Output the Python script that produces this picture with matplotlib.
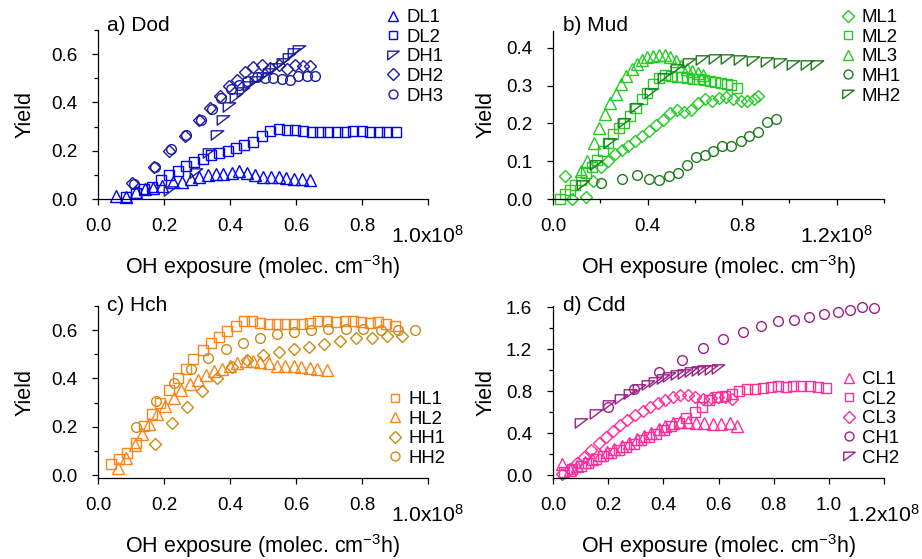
import matplotlib
matplotlib.use("Agg")
import matplotlib.pyplot as plt
from matplotlib.path import Path
from matplotlib.ticker import MultipleLocator
from matplotlib.transforms import ScaledTranslation

plt.rcParams['font.family'] = ['Liberation Sans', 'DejaVu Sans']
plt.rcParams['mathtext.fontset'] = 'custom'
plt.rcParams['mathtext.rm'] = 'Liberation Sans'
plt.rcParams['mathtext.it'] = 'Liberation Sans:italic'
plt.rcParams['mathtext.bf'] = 'Liberation Sans:bold'

# ---------------- data (x in units of 1e8 molec cm^-3 h) ----------------
# a) Dod
DL1_x = [0.056,0.084,0.114,0.142,0.167,0.195,0.226,0.256,0.283,0.307,0.332,0.357,0.380,0.405,0.428,0.450,0.476,0.499,0.524,0.547,0.570,0.595,0.618,0.641]
DL1_y = [0.012,0.010,0.030,0.040,0.045,0.055,0.069,0.072,0.083,0.092,0.100,0.102,0.104,0.107,0.114,0.109,0.100,0.093,0.093,0.090,0.086,0.083,0.083,0.080]
DL2_x = [0.084,0.114,0.140,0.165,0.190,0.216,0.243,0.268,0.290,0.319,0.342,0.367,0.393,0.418,0.443,0.469,0.496,0.521,0.547,0.572,0.597,0.622,0.648,0.673,0.698,0.724,0.749,0.774,0.800,0.825,0.850,0.875,0.904]
DL2_y = [0.010,0.023,0.040,0.050,0.080,0.100,0.118,0.137,0.152,0.165,0.183,0.192,0.200,0.210,0.224,0.238,0.259,0.280,0.289,0.286,0.286,0.282,0.279,0.279,0.279,0.279,0.279,0.283,0.283,0.279,0.279,0.279,0.277]
DH1_x = [0.218,0.297,0.337,0.362,0.380,0.398,0.418,0.438,0.458,0.479,0.499,0.519,0.539,0.560,0.580,0.595,0.610]
DH1_y = [0.035,0.106,0.190,0.266,0.328,0.383,0.418,0.445,0.466,0.487,0.505,0.521,0.542,0.563,0.584,0.604,0.618]
DH2_x = [0.102,0.170,0.216,0.263,0.307,0.339,0.369,0.396,0.420,0.445,0.471,0.496,0.521,0.547,0.572,0.597,0.622,0.643]
DH2_y = [0.065,0.134,0.200,0.259,0.328,0.376,0.425,0.466,0.494,0.524,0.545,0.556,0.542,0.556,0.538,0.553,0.549,0.549]
DH3_x = [0.109,0.173,0.221,0.266,0.312,0.345,0.372,0.403,0.428,0.453,0.481,0.506,0.531,0.557,0.582,0.607,0.633,0.658]
DH3_y = [0.061,0.134,0.206,0.266,0.328,0.372,0.420,0.455,0.473,0.487,0.505,0.500,0.503,0.497,0.494,0.510,0.508,0.508]

# b) Mud
ML1_x = [0.049,0.082,0.138,0.171,0.202,0.233,0.262,0.290,0.319,0.347,0.378,0.406,0.437,0.467,0.495,0.526,0.554,0.582,0.613,0.643,0.674,0.702,0.733,0.763,0.794,0.822,0.850,0.868]
ML1_y = [0.060,0.000,0.006,0.048,0.086,0.101,0.119,0.131,0.140,0.153,0.166,0.181,0.195,0.208,0.228,0.237,0.230,0.237,0.255,0.264,0.260,0.268,0.270,0.264,0.260,0.260,0.266,0.273]
ML2_x = [0.030,0.051,0.072,0.093,0.117,0.138,0.164,0.185,0.213,0.234,0.255,0.279,0.300,0.326,0.350,0.375,0.396,0.423,0.448,0.472,0.498,0.523,0.544,0.568,0.594,0.618,0.639,0.664,0.685,0.709,0.735,0.754,0.777]
ML2_y = [0.000,0.012,0.024,0.037,0.051,0.068,0.086,0.104,0.126,0.148,0.171,0.188,0.202,0.220,0.242,0.264,0.282,0.304,0.320,0.328,0.326,0.324,0.322,0.320,0.319,0.317,0.315,0.313,0.310,0.307,0.304,0.301,0.295]
ML3_x = [0.120,0.145,0.173,0.195,0.219,0.241,0.265,0.286,0.310,0.333,0.357,0.378,0.399,0.424,0.448,0.472,0.495,0.519,0.543,0.565,0.589,0.613,0.636]
ML3_y = [0.075,0.100,0.148,0.188,0.224,0.253,0.277,0.304,0.326,0.344,0.357,0.368,0.375,0.380,0.381,0.381,0.375,0.366,0.353,0.344,0.340,0.335,0.328]
MH1_x = [0.202,0.290,0.357,0.406,0.448,0.491,0.529,0.568,0.606,0.641,0.678,0.716,0.754,0.794,0.829,0.867,0.904,0.942]
MH1_y = [0.042,0.052,0.064,0.052,0.051,0.061,0.068,0.089,0.111,0.117,0.128,0.140,0.141,0.153,0.166,0.177,0.204,0.213]
MH2_x = [0.128,0.180,0.241,0.300,0.352,0.413,0.469,0.523,0.575,0.632,0.684,0.737,0.791,0.847,0.904,0.960,1.017,1.076,1.118]
MH2_y = [0.037,0.091,0.148,0.200,0.242,0.282,0.320,0.344,0.360,0.368,0.372,0.372,0.368,0.366,0.362,0.359,0.356,0.356,0.356]

# c) Hch
HL1_x = [0.040,0.065,0.088,0.114,0.139,0.163,0.189,0.216,0.241,0.266,0.289,0.317,0.342,0.367,0.392,0.417,0.442,0.467,0.492,0.518,0.543,0.568,0.593,0.618,0.643,0.668,0.693,0.722,0.747,0.773,0.798,0.823,0.848,0.874,0.899]
HL1_y = [0.048,0.066,0.090,0.131,0.203,0.255,0.299,0.354,0.403,0.441,0.480,0.517,0.545,0.572,0.595,0.619,0.637,0.636,0.630,0.626,0.626,0.626,0.626,0.626,0.631,0.636,0.636,0.634,0.636,0.639,0.632,0.628,0.632,0.625,0.618]
HL2_x = [0.060,0.085,0.111,0.134,0.156,0.179,0.204,0.229,0.253,0.278,0.302,0.327,0.350,0.375,0.400,0.422,0.447,0.470,0.492,0.518,0.543,0.568,0.593,0.616,0.641,0.665,0.693]
HL2_y = [0.028,0.069,0.124,0.170,0.211,0.252,0.286,0.320,0.352,0.377,0.393,0.414,0.430,0.441,0.452,0.462,0.472,0.472,0.469,0.462,0.452,0.452,0.452,0.448,0.444,0.441,0.437]
HH1_x = [0.174,0.223,0.271,0.315,0.362,0.407,0.452,0.500,0.548,0.593,0.638,0.685,0.734,0.783,0.831,0.876,0.922]
HH1_y = [0.128,0.214,0.283,0.348,0.400,0.448,0.476,0.497,0.510,0.524,0.531,0.541,0.556,0.566,0.566,0.574,0.574]
HH2_x = [0.116,0.176,0.229,0.281,0.334,0.387,0.439,0.490,0.541,0.593,0.645,0.698,0.753,0.803,0.859,0.909,0.960]
HH2_y = [0.200,0.306,0.382,0.441,0.485,0.520,0.546,0.567,0.583,0.592,0.599,0.606,0.604,0.604,0.601,0.601,0.600]

# d) Cdd
CL1_x = [0.034,0.061,0.088,0.116,0.143,0.170,0.195,0.222,0.250,0.276,0.303,0.331,0.355,0.383,0.407,0.434,0.462,0.488,0.519,0.549,0.579,0.610,0.640,0.667]
CL1_y = [0.104,0.047,0.085,0.120,0.149,0.190,0.222,0.247,0.279,0.307,0.342,0.370,0.402,0.434,0.465,0.497,0.503,0.510,0.500,0.494,0.487,0.487,0.500,0.468]
CL2_x = [0.040,0.070,0.100,0.128,0.155,0.183,0.210,0.238,0.264,0.292,0.319,0.347,0.373,0.401,0.428,0.456,0.482,0.513,0.541,0.567,0.595,0.622,0.650,0.676,0.703,0.731,0.761,0.789,0.816,0.844,0.870,0.900,0.930,0.960,0.990]
CL2_y = [0.032,0.054,0.089,0.117,0.149,0.180,0.206,0.237,0.269,0.300,0.332,0.364,0.395,0.427,0.465,0.500,0.547,0.601,0.649,0.712,0.744,0.750,0.775,0.797,0.816,0.823,0.832,0.839,0.845,0.839,0.845,0.848,0.845,0.842,0.830]
CL3_x = [0.034,0.061,0.088,0.113,0.137,0.165,0.192,0.218,0.244,0.270,0.298,0.325,0.353,0.379,0.407,0.434,0.462,0.488,0.516,0.543,0.571,0.598,0.625,0.650]
CL3_y = [0.009,0.054,0.111,0.174,0.237,0.301,0.364,0.421,0.475,0.522,0.570,0.608,0.649,0.687,0.718,0.744,0.766,0.766,0.744,0.728,0.737,0.744,0.744,0.728]
CH1_x = [0.201,0.295,0.385,0.468,0.545,0.618,0.688,0.755,0.816,0.874,0.928,0.981,1.032,1.078,1.122,1.165]
CH1_y = [0.649,0.823,0.978,1.095,1.206,1.294,1.358,1.421,1.471,1.481,1.506,1.538,1.554,1.576,1.601,1.592]
CH2_x = [0.101,0.155,0.204,0.246,0.280,0.313,0.343,0.371,0.398,0.422,0.450,0.476,0.501,0.525,0.549,0.573,0.598]
CH2_y = [0.497,0.585,0.665,0.720,0.775,0.823,0.854,0.886,0.911,0.934,0.949,0.965,0.981,0.991,0.997,1.003,1.006]

# ---------------- style ----------------
TRI_DL = Path([(-1, 0.75), (1, 0.75), (-1, -0.75), (-1, 0.75)],
              [Path.MOVETO, Path.LINETO, Path.LINETO, Path.CLOSEPOLY])

MS = {'^': 8.2, 's': 6.8, 'D': 6.5, 'o': 7.0, 'tri': 9.0}

def mk(m):
    return TRI_DL if m == 'tri' else m

W, H = 922, 559
fig = plt.figure(figsize=(W / 100, H / 100), dpi=100)
TICK_FS = 13.6

def axes_px(l, r, b, t):
    return fig.add_axes([l / W, 1 - b / H, (r - l) / W, (b - t) / H])

def style_axes(ax):
    for s in ['top', 'right']:
        ax.spines[s].set_visible(False)
    for s in ['left', 'bottom']:
        ax.spines[s].set_linewidth(0.9)
    ax.tick_params(which='major', direction='out', length=4.5, width=0.9, labelsize=TICK_FS)
    ax.tick_params(which='minor', direction='out', length=2.6, width=0.9)
    ax.tick_params(axis='x', which='major', pad=9.0)
    ax.tick_params(axis='y', which='major', pad=10.5)

def draw(ax, series):
    for x, y, m, c, lab in series:
        ax.plot(x, y, linestyle='none', marker=mk(m), markersize=MS[m],
                markerfacecolor='none', markeredgecolor=c, markeredgewidth=1.0,
                label=lab, clip_on=False)

def add_legend(ax, xpx, ypx):
    ax.legend(loc='upper left', bbox_to_anchor=(xpx / W, 1 - ypx / H),
              bbox_transform=fig.transFigure, frameon=False, fontsize=13.4,
              handlelength=0.75, handletextpad=0.35, labelspacing=0.14,
              borderpad=0, borderaxespad=0, markerscale=0.92)

def set_xticks_sci(ax, ticks, labels):
    ax.set_xticks(ticks, labels)
    lab = ax.get_xticklabels()[-1]
    lab.set_fontsize(15.2)
    lab.set_transform(lab.get_transform() +
                      ScaledTranslation(0, -5.0 / 72, fig.dpi_scale_trans))

XLAB = 'OH exposure (molec. cm$^{-3}$h)'

# ---- a) Dod ----
blue, navy = '#0000ff', '#1c1c9e'
axa = axes_px(98, 428, 199, 30)
style_axes(axa)
draw(axa, [(DL1_x, DL1_y, '^', blue, 'DL1'), (DL2_x, DL2_y, 's', blue, 'DL2'),
           (DH1_x, DH1_y, 'tri', navy, 'DH1'), (DH2_x, DH2_y, 'D', navy, 'DH2'),
           (DH3_x, DH3_y, 'o', navy, 'DH3')])
axa.set_xlim(0, 1.0)
axa.set_ylim(0, 0.70)
set_xticks_sci(axa, [0, 0.2, 0.4, 0.6, 0.8, 1.0], ['0.0', '0.2', '0.4', '0.6', '0.8', '1.0x10$^{8}$'])
axa.set_yticks([0, 0.2, 0.4, 0.6], ['0.0', '0.2', '0.4', '0.6'])
axa.yaxis.set_minor_locator(MultipleLocator(0.1))
axa.text(0.027, 1.025, 'a) Dod', transform=axa.transAxes, fontsize=15, va='center', ha='left')
add_legend(axa, 386, 9)

# ---- b) Mud ----
green, dgreen = '#22cc22', '#1f7a1f'
axb = axes_px(553, 884, 199, 31)
style_axes(axb)
draw(axb, [(ML1_x, ML1_y, 'D', green, 'ML1'), (ML2_x, ML2_y, 's', green, 'ML2'),
           (ML3_x, ML3_y, '^', green, 'ML3'), (MH1_x, MH1_y, 'o', dgreen, 'MH1'),
           (MH2_x, MH2_y, 'tri', dgreen, 'MH2')])
axb.set_xlim(0, 1.4)
axb.set_ylim(0, 0.445)
set_xticks_sci(axb, [0, 0.4, 0.8, 1.2], ['0.0', '0.4', '0.8', '1.2x10$^{8}$'])
axb.xaxis.set_minor_locator(MultipleLocator(0.2))
axb.set_yticks([0, 0.1, 0.2, 0.3, 0.4], ['0.0', '0.1', '0.2', '0.3', '0.4'])
axb.text(0.03, 1.03, 'b) Mud', transform=axb.transAxes, fontsize=15, va='center', ha='left')
add_legend(axb, 841, 9)

# ---- c) Hch ----
orange, gold = '#ff8418', '#cc8a10'
axc = axes_px(98, 428, 478, 306)
style_axes(axc)
draw(axc, [(HL1_x, HL1_y, 's', orange, 'HL1'), (HL2_x, HL2_y, '^', orange, 'HL2'),
           (HH1_x, HH1_y, 'D', gold, 'HH1'), (HH2_x, HH2_y, 'o', gold, 'HH2')])
axc.set_xlim(0, 1.0)
axc.set_ylim(-0.012, 0.70)
set_xticks_sci(axc, [0, 0.2, 0.4, 0.6, 0.8, 1.0], ['0.0', '0.2', '0.4', '0.6', '0.8', '1.0x10$^{8}$'])
axc.set_yticks([0, 0.2, 0.4, 0.6], ['0.0', '0.2', '0.4', '0.6'])
axc.yaxis.set_minor_locator(MultipleLocator(0.1))
axc.text(0.027, 1.005, 'c) Hch', transform=axc.transAxes, fontsize=15, va='center', ha='left')
add_legend(axc, 388, 391)

# ---- d) Cdd ----
pink, purple = '#ff2d9b', '#9c1f8a'
axd = axes_px(553, 884, 478, 306)
style_axes(axd)
draw(axd, [(CL1_x, CL1_y, '^', pink, 'CL1'), (CL2_x, CL2_y, 's', pink, 'CL2'),
           (CL3_x, CL3_y, 'D', pink, 'CL3'), (CH1_x, CH1_y, 'o', purple, 'CH1'),
           (CH2_x, CH2_y, 'tri', purple, 'CH2')])
axd.set_xlim(0, 1.2)
axd.set_ylim(-0.028, 1.61)
set_xticks_sci(axd, [0, 0.2, 0.4, 0.6, 0.8, 1.0, 1.2], ['0.0', '0.2', '0.4', '0.6', '0.8', '1.0', '1.2x10$^{8}$'])
axd.set_yticks([0, 0.4, 0.8, 1.2, 1.6], ['0.0', '0.4', '0.8', '1.2', '1.6'])
axd.yaxis.set_minor_locator(MultipleLocator(0.2))
axd.text(0.03, 1.005, 'd) Cdd', transform=axd.transAxes, fontsize=15, va='center', ha='left')
add_legend(axd, 842, 371)

for ax, yl_x in [(axa, -0.19), (axb, -0.17), (axc, -0.19), (axd, -0.17)]:
    ax.set_xlabel(XLAB, fontsize=15.5)
    ax.set_ylabel('Yield', fontsize=15.5)
    ax.yaxis.set_label_coords(yl_x, 0.5)
for ax in (axa, axb):
    ax.xaxis.set_label_coords(0.5, -0.32)
for ax in (axc, axd):
    ax.xaxis.set_label_coords(0.5, -0.315)

fig.savefig('out.png', dpi=100)
